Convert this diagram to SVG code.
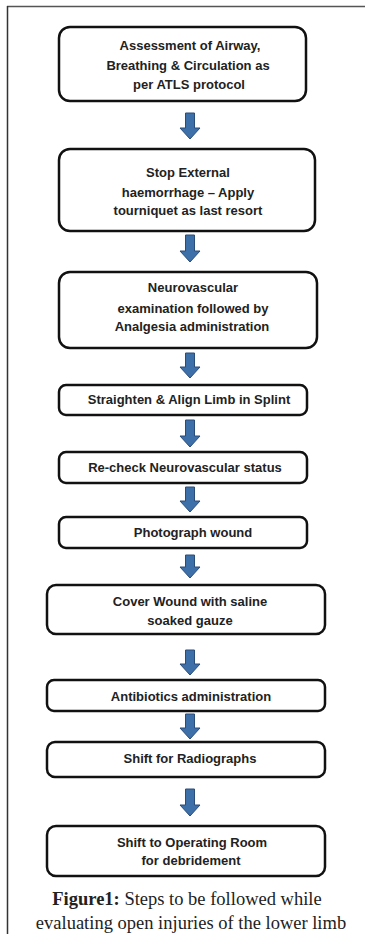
<svg xmlns="http://www.w3.org/2000/svg" width="365" height="934" viewBox="0 0 365 934">
<style>
.box{fill:#fff;stroke:#111;stroke-width:2.5}
.t{font-family:"Liberation Sans",Arial,sans-serif;font-weight:bold;font-size:13px;fill:#222;text-anchor:middle}
.cap{font-family:"Liberation Serif","Times New Roman",serif;font-size:18.5px;fill:#222;text-anchor:middle}
.arr{fill:#3d6fa8;stroke:#2a4c78;stroke-width:1}
</style>
<rect width="365" height="934" fill="#fff"/>
<g id="frame" fill="none">
<line x1="7" y1="6.5" x2="365" y2="6.5" stroke="#555" stroke-width="1.5"/>
<line x1="7.5" y1="6" x2="7.5" y2="934" stroke="#333" stroke-width="1.5"/>
</g>
<g id="connectors">
<path class="arr" d="M185.5,113 H194.5 V128 H200 L190,139 L180,128 H185.5 Z"/>
<path class="arr" d="M185.5,235 H194.5 V251 H200 L190,262 L180,251 H185.5 Z"/>
<path class="arr" d="M185.5,353 H194.5 V367 H200 L190,378 L180,367 H185.5 Z"/>
<path class="arr" d="M185.5,420 H194.5 V436 H200 L190,447 L180,436 H185.5 Z"/>
<path class="arr" d="M185.5,487 H194.5 V501 H200 L190,512 L180,501 H185.5 Z"/>
<path class="arr" d="M185.5,555 H194.5 V567 H200 L190,578 L180,567 H185.5 Z"/>
<path class="arr" d="M185.5,650 H194.5 V664 H200 L190,675 L180,664 H185.5 Z"/>
<path class="arr" d="M185.5,714 H194.5 V728 H200 L190,739 L180,728 H185.5 Z"/>
<path class="arr" d="M185.5,789 H194.5 V805 H200 L190,816 L180,805 H185.5 Z"/>
</g>
<g id="n1"><rect class="box" x="59" y="27" width="247" height="74" rx="11"/>
<text class="t" x="190" y="50">Assessment of Airway,</text>
<text class="t" x="188" y="70">Breathing &amp; Circulation as</text>
<text class="t" x="189" y="88.5">per ATLS protocol</text></g>
<g id="n2"><rect class="box" x="59" y="149" width="256" height="82" rx="11"/>
<text class="t" x="188" y="177">Stop External</text>
<text class="t" x="188" y="196.5">haemorrhage – Apply</text>
<text class="t" x="188" y="215">tourniquet as last resort</text></g>
<g id="n3"><rect class="box" x="59" y="272" width="258" height="76" rx="11"/>
<text class="t" x="193" y="292">Neurovascular</text>
<text class="t" x="193" y="312.5">examination followed by</text>
<text class="t" x="192" y="331">Analgesia administration</text></g>
<g id="n4"><rect class="box" x="59" y="385" width="248" height="30" rx="7"/>
<text class="t" x="189" y="404">Straighten &amp; Align Limb in Splint</text></g>
<g id="n5"><rect class="box" x="59" y="452" width="248" height="31" rx="7"/>
<text class="t" x="185" y="472">Re-check Neurovascular status</text></g>
<g id="n6"><rect class="box" x="59" y="517" width="248" height="31" rx="7"/>
<text class="t" x="193" y="536.5">Photograph wound</text></g>
<g id="n7"><rect class="box" x="47" y="585" width="278" height="49" rx="9"/>
<text class="t" x="190" y="605.5">Cover Wound with saline</text>
<text class="t" x="190" y="624.5">soaked gauze</text></g>
<g id="n8"><rect class="box" x="47" y="680" width="278" height="31" rx="7"/>
<text class="t" x="191" y="700.5">Antibiotics administration</text></g>
<g id="n9"><rect class="box" x="47" y="742" width="278" height="35" rx="8"/>
<text class="t" x="190" y="763">Shift for Radiographs</text></g>
<g id="n10"><rect class="box" x="47" y="826" width="278" height="50" rx="9"/>
<text class="t" x="192" y="846.5">Shift to Operating Room</text>
<text class="t" x="191" y="865">for debridement</text></g>
<g id="caption">
<text class="cap" x="187" y="904.5"><tspan font-weight="bold">Figure1:</tspan>  Steps to be followed while</text>
<text class="cap" x="191" y="929">evaluating open injuries of the lower limb</text>
</g>
</svg>
